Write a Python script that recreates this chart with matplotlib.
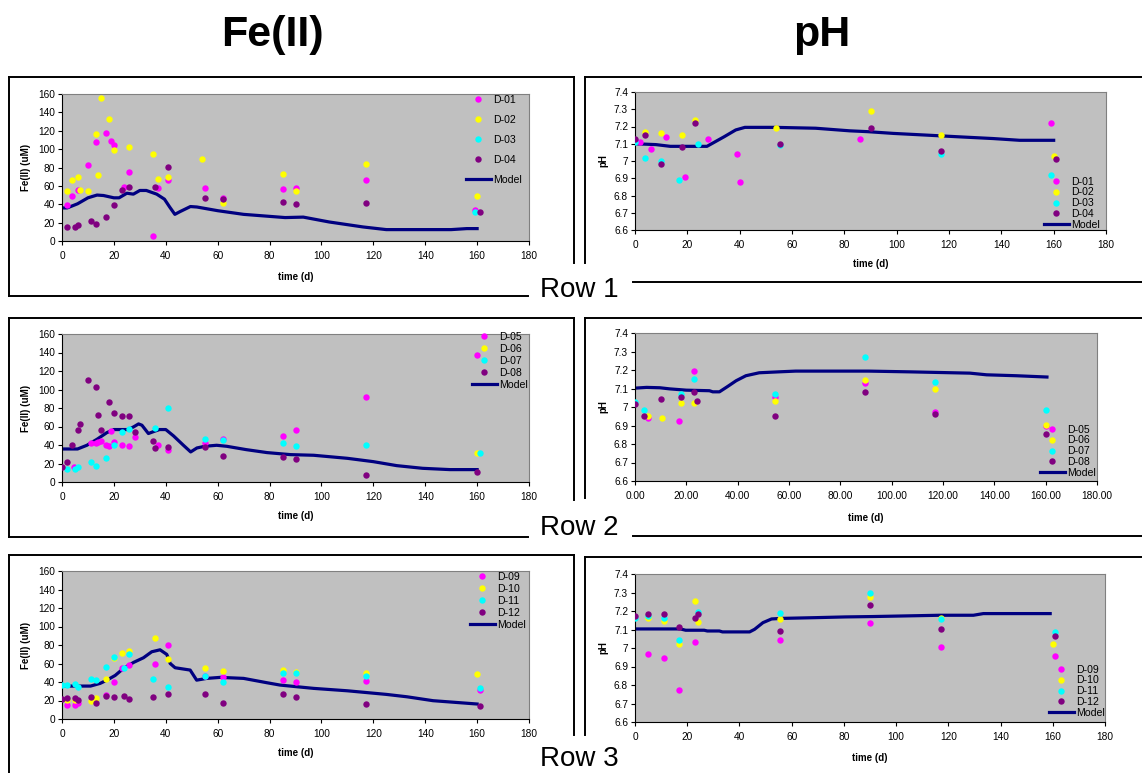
import matplotlib
matplotlib.use('Agg')
import matplotlib.pyplot as plt
from matplotlib.lines import Line2D
from matplotlib.ticker import FuncFormatter

plt.rcParams['font.family'] = ['Liberation Sans', 'DejaVu Sans']

W, H = 1142, 773

# ---- Fe(II) row 1 ----
fe1_d01_t = [2, 4, 6, 10, 13, 17, 19, 20, 24, 26, 35, 37, 41, 55, 62, 85, 90, 117, 159]
fe1_d01_v = [39, 49.5, 55, 83, 108, 117.5, 109, 104, 59, 75, 5.5, 58, 66, 58, 47, 57, 58, 66, 33.5]
fe1_d02_t = [2, 4, 6, 7, 10, 13, 14, 15, 18, 20, 26, 35, 37, 41, 54, 62, 85, 90, 117, 160]
fe1_d02_v = [54.5, 66, 70, 56, 54, 116, 72, 156, 133, 99, 102.5, 95, 67, 70, 89, 41, 73, 54, 84, 49.5]
fe1_d03_t = [159]
fe1_d03_v = [32]
fe1_d04_t = [2, 5, 6, 11, 13, 17, 20, 23, 26, 36, 41, 55, 62, 85, 90, 117, 161]
fe1_d04_v = [15, 15, 17, 22, 18, 26, 39, 55.6, 59, 59, 81, 47, 45.5, 42, 40, 41, 31.6]
fe1_model_t = [0, 2, 6, 10, 13.5, 16, 20, 22, 25, 27.5, 30, 32.5, 36.5, 39.5, 41.5, 43.5, 45.5, 49.5,
               52, 60, 70, 86, 93, 103, 116, 125, 130, 150, 156, 160]
fe1_model_v = [36, 36, 40.5, 47, 50, 49.5, 47, 47, 52, 51, 55, 55, 51, 45.5, 37, 29, 32, 37.5,
               37, 33, 29, 25.5, 26, 20.7, 15.3, 12.4, 12.4, 12.4, 13.5, 13.5]

# ---- pH row 1 ----
ph1_d01_t = [2, 6, 12, 19, 28, 39, 40, 86, 159]
ph1_d01_v = [7.11, 7.07, 7.14, 6.91, 7.13, 7.04, 6.88, 7.13, 7.22]
ph1_d02_t = [4, 10, 18, 23, 54, 90, 117, 160]
ph1_d02_v = [7.17, 7.16, 7.15, 7.24, 7.19, 7.29, 7.15, 7.03]
ph1_d03_t = [0, 4, 10, 17, 24, 55.6, 117, 159]
ph1_d03_v = [7.11, 7.02, 7.00, 6.89, 7.10, 7.09, 7.04, 6.92]
ph1_d04_t = [0, 4, 10, 18, 23, 55.6, 90, 117, 161]
ph1_d04_v = [7.13, 7.15, 6.98, 7.08, 7.22, 7.10, 7.19, 7.06, 7.01]
ph1_model_t = [0, 8, 13.5, 27.5, 34, 38.5, 42, 53.5, 69, 82, 89, 98.7, 111.5, 124, 137, 147, 160]
ph1_model_v = [7.10, 7.095, 7.085, 7.085, 7.14, 7.18, 7.195, 7.195, 7.19, 7.175, 7.17, 7.16, 7.15,
               7.14, 7.13, 7.12, 7.12]

# ---- Fe(II) row 2 ----
fe2_d05_t = [4.5, 11, 13, 14, 15, 17, 18, 19, 20, 23, 26, 28, 37, 41, 55, 62, 85, 90, 117, 160]
fe2_d05_v = [16.6, 42, 42.6, 43, 44.4, 40.4, 38.6, 55, 43.7, 40.4, 39.4, 48.4, 40.4, 35, 42, 46.6,
             50, 56, 92.4, 137]
fe2_d06_t = [160]
fe2_d06_v = [31.4]
fe2_d07_t = [2, 5, 6, 11, 13, 17, 20, 23, 26, 36, 41, 55, 62, 85, 90, 117, 161]
fe2_d07_v = [14.4, 14.4, 16, 21.7, 17.7, 26, 39.7, 54.5, 57.8, 58.9, 79.8, 46.6, 45.5, 42, 39.4,
             40.5, 31.4]
fe2_d08_t = [0, 2, 4, 6, 7, 10, 13, 14, 15, 18, 20, 23, 26, 28, 35, 36, 41, 55, 62, 85, 90, 117, 160]
fe2_d08_v = [16.6, 21.7, 40.4, 56, 63, 110, 102.6, 72.6, 56, 86, 74.8, 71.5, 71.5, 54, 44.4, 37.2,
             38.3, 37.6, 27.8, 27.4, 24.9, 8, 10.5]
fe2_model_t = [0, 6, 9.6, 13.5, 17.3, 20, 25.6, 27.6, 29.5, 30.8, 33.3, 35.3, 37.6, 40, 43, 46.8,
               49.6, 52, 55, 59.6, 63.5, 71, 79, 88, 97, 110, 120, 129, 139, 149.5, 160]
fe2_model_v = [35.7, 35.7, 39.7, 46.2, 53.4, 56.7, 56.7, 59.6, 62.8, 61.4, 52.4, 54.5, 56.7, 56.7,
               49.8, 39.7, 32.5, 36.8, 38.6, 39.7, 38.6, 35, 31.8, 29.6, 28.9, 25.6, 22, 17.7,
               14.8, 13.4, 13.4]

# ---- pH row 2 ----
ph2_d05_t = [5, 17, 23, 54.5, 89.5, 116.7, 160]
ph2_d05_v = [6.94, 6.925, 7.194, 7.055, 7.13, 6.972, 6.90]
ph2_d06_t = [5, 10.7, 18, 23, 54.5, 89.5, 116.7, 160]
ph2_d06_v = [6.954, 6.94, 7.023, 7.023, 7.033, 7.144, 7.10, 6.903]
ph2_d07_t = [0, 3.7, 18, 23, 54.5, 89.5, 116.7, 160]
ph2_d07_v = [7.026, 6.983, 7.071, 7.153, 7.071, 7.272, 7.133, 6.983]
ph2_d08_t = [0, 3.7, 10, 18, 23, 24, 54.5, 89.5, 116.7, 160]
ph2_d08_v = [7.015, 6.95, 7.044, 7.055, 7.08, 7.03, 6.952, 7.08, 6.963, 6.853]
ph2_model_t = [0, 4.5, 9.7, 13.5, 20, 29, 30.3, 32.9, 36.1, 39.4, 43.2, 48.4, 56, 62.6, 91, 107,
               130.5, 137, 148.6, 160.5]
ph2_model_v = [7.102, 7.106, 7.104, 7.098, 7.091, 7.088, 7.082, 7.082, 7.111, 7.142, 7.169, 7.185,
               7.19, 7.194, 7.194, 7.19, 7.183, 7.174, 7.169, 7.162]

# ---- Fe(II) row 3 ----
fe3_d09_t = [2, 5, 6, 17, 20, 23, 26, 36, 41, 55, 62, 85, 90, 117, 161]
fe3_d09_v = [15, 15, 17, 26.3, 39.6, 55, 58.3, 59.4, 79.9, 46.8, 45.7, 41.7, 39.6, 40.7, 31]
fe3_d10_t = [2, 5, 11, 13, 17, 20, 23, 26, 36, 41, 55, 62, 85, 90, 117, 160]
fe3_d10_v = [20.1, 20.1, 20, 22.3, 42.8, 65.5, 71.6, 73.7, 88, 64.4, 55, 52.2, 52.5, 50.7, 50, 48.9]
fe3_d11_t = [0, 2, 5, 6, 11, 13, 17, 20, 24, 26, 35, 41, 55, 62, 85, 90, 117, 161]
fe3_d11_v = [36.3, 36.3, 37.4, 34.5, 42.8, 41.7, 56, 66.5, 55, 69.8, 42.8, 34.5, 46, 39.6, 50,
             49.6, 46.7, 33.8]
fe3_d12_t = [0, 2, 5, 6, 11, 13, 17, 20, 24, 26, 35, 41, 55, 62, 85, 90, 117, 161]
fe3_d12_v = [21.2, 22.3, 23, 20.1, 23.4, 17, 25.2, 23.4, 25.2, 21.2, 24.1, 27, 27.3, 16.9, 27.3,
             24, 16.2, 13.7]
fe3_model_t = [0, 11, 14.7, 17.3, 20.5, 23.7, 27.6, 31.4, 34.6, 37.8, 40.4, 41.7, 43.6, 49.4, 51.9,
               55.8, 61, 70, 79, 84, 97, 110, 125, 133, 143, 160]
fe3_model_v = [35.6, 35.6, 38.5, 42, 47.1, 54.7, 61.2, 66.2, 72.7, 74.8, 69.8, 60, 55.4, 52.9, 42,
               43.9, 45, 43.9, 39.2, 36.7, 33.1, 30.5, 26.6, 24, 19.8, 16.2]

# ---- pH row 3 ----
ph3_d09_t = [5, 11, 17, 23, 55.6, 90, 117, 161]
ph3_d09_v = [6.965, 6.945, 6.774, 7.033, 7.044, 7.136, 7.003, 6.955]
ph3_d10_t = [5, 11, 17, 23, 24, 55.6, 90, 117, 160]
ph3_d10_v = [7.161, 7.147, 7.022, 7.254, 7.142, 7.157, 7.274, 7.164, 7.022]
ph3_d11_t = [0, 5, 11, 17, 24, 55.6, 90, 117, 161]
ph3_d11_v = [7.161, 7.173, 7.161, 7.044, 7.193, 7.191, 7.296, 7.157, 7.085]
ph3_d12_t = [0, 5, 11, 17, 23, 24, 55.6, 90, 117, 161]
ph3_d12_v = [7.173, 7.184, 7.184, 7.114, 7.161, 7.184, 7.094, 7.235, 7.105, 7.064]
ph3_model_t = [0, 17.4, 19.4, 26.5, 27.7, 32.3, 33.5, 43.9, 45.8, 49, 52.3, 56, 69, 80.6, 91, 116.8,
               129.6, 133.4, 159]
ph3_model_v = [7.103, 7.103, 7.096, 7.096, 7.092, 7.092, 7.087, 7.087, 7.101, 7.137, 7.157, 7.16,
               7.164, 7.168, 7.17, 7.177, 7.177, 7.186, 7.186]

well_colors = ['#FF00FF', '#FFFF00', '#00FFFF', '#800080']
fe_ticks = [0, 20, 40, 60, 80, 100, 120, 140, 160]
ph_ticks = [6.6, 6.7, 6.8, 6.9, 7.0, 7.1, 7.2, 7.3, 7.4]
time_ticks = [0, 20, 40, 60, 80, 100, 120, 140, 160, 180]

fig = plt.figure(figsize=(W / 100, H / 100), dpi=100)


def fx(x):
    return x / W


def fy(y):
    return 1 - y / H


def rect(l, t, r, b):
    return [fx(l), fy(b), fx(r) - fx(l), fy(t) - fy(b)]


def hline(y, x0, x1):
    fig.add_artist(Line2D([fx(x0), fx(x1)], [fy(y), fy(y)], color='black', lw=1.4))


def vline(x, y0, y1):
    fig.add_artist(Line2D([fx(x), fx(x)], [fy(y0), fy(y1)], color='black', lw=1.4))


def general(v, pos):
    return '%g' % round(v, 2)


def panel(box, wells, labels, model_t, model_v, kind, leg_loc, leg_xy, leg_space,
          xpad, two_dec=False):
    ax = fig.add_axes(rect(*box))
    ax.set_facecolor('#C0C0C0')
    ax.plot(model_t, model_v, color='#000080', lw=2.3, label='Model', zorder=2)
    handles = []
    for (t, v), c, lab in zip(wells, well_colors, labels):
        h, = ax.plot(t, v, 'o', color=c, ms=4.6, mew=0, label=lab, zorder=3)
        handles.append(h)
    handles.append(ax.lines[0])
    ax.set_xlim(0, 180)
    ax.set_xticks(time_ticks)
    if kind == 'fe':
        ax.set_ylim(0, 160)
        ax.set_yticks(fe_ticks)
        ax.set_ylabel('Fe(II) (uM)', fontsize=7, fontweight='bold', labelpad=5)
    else:
        ax.set_ylim(6.6, 7.4)
        ax.set_yticks(ph_ticks)
        ax.set_ylabel('pH', fontsize=7, fontweight='bold', labelpad=4)
    ax.yaxis.set_major_formatter(FuncFormatter(general))
    if two_dec:
        ax.xaxis.set_major_formatter(FuncFormatter(lambda v, p: '%.2f' % v))
    ax.set_xlabel('time (d)', fontsize=7, fontweight='bold', labelpad=xpad)
    ax.tick_params(axis='both', labelsize=7.3, direction='out', length=3, width=0.8,
                   colors='black')
    ax.tick_params(axis='x', pad=4)
    ax.tick_params(axis='y', pad=2)
    for s in ['top', 'right']:
        ax.spines[s].set_color('#808080')
        ax.spines[s].set_linewidth(0.8)
    for s in ['left', 'bottom']:
        ax.spines[s].set_color('black')
        ax.spines[s].set_linewidth(0.8)
    ax.legend(handles=handles, loc=leg_loc, bbox_to_anchor=(fx(leg_xy[0]), fy(leg_xy[1])),
              bbox_transform=fig.transFigure, frameon=False, fontsize=7.6,
              labelspacing=leg_space, handlelength=2.4, handletextpad=0.2, borderpad=0,
              borderaxespad=0)
    return ax


# row 1
panel((62, 94, 529, 241),
      [(fe1_d01_t, fe1_d01_v), (fe1_d02_t, fe1_d02_v), (fe1_d03_t, fe1_d03_v), (fe1_d04_t, fe1_d04_v)],
      ['D-01', 'D-02', 'D-03', 'D-04'], fe1_model_t, fe1_model_v, 'fe',
      'upper right', (522, 95), 0.95, 8)
panel((635, 92, 1106, 230),
      [(ph1_d01_t, ph1_d01_v), (ph1_d02_t, ph1_d02_v), (ph1_d03_t, ph1_d03_v), (ph1_d04_t, ph1_d04_v)],
      ['D-01', 'D-02', 'D-03', 'D-04'], ph1_model_t, ph1_model_v, 'ph',
      'lower right', (1100, 230), 0.08, 6.5)

# row 2
panel((62, 334, 529, 482),
      [(fe2_d05_t, fe2_d05_v), (fe2_d06_t, fe2_d06_v), (fe2_d07_t, fe2_d07_v), (fe2_d08_t, fe2_d08_v)],
      ['D-05', 'D-06', 'D-07', 'D-08'], fe2_model_t, fe2_model_v, 'fe',
      'upper right', (528, 332), 0.19, 6.5)
panel((635, 333, 1097, 481),
      [(ph2_d05_t, ph2_d05_v), (ph2_d06_t, ph2_d06_v), (ph2_d07_t, ph2_d07_v), (ph2_d08_t, ph2_d08_v)],
      ['D-05', 'D-06', 'D-07', 'D-08'], ph2_model_t, ph2_model_v, 'ph',
      'lower right', (1096, 478), 0.08, 8.5, two_dec=True)

# row 3
panel((62, 571, 529, 719),
      [(fe3_d09_t, fe3_d09_v), (fe3_d10_t, fe3_d10_v), (fe3_d11_t, fe3_d11_v), (fe3_d12_t, fe3_d12_v)],
      ['D-09', 'D-10', 'D-11', 'D-12'], fe3_model_t, fe3_model_v, 'fe',
      'upper right', (526, 572), 0.19, 6.5)
panel((635, 574, 1105, 722),
      [(ph3_d09_t, ph3_d09_v), (ph3_d10_t, ph3_d10_v), (ph3_d11_t, ph3_d11_v), (ph3_d12_t, ph3_d12_v)],
      ['D-09', 'D-10', 'D-11', 'D-12'], ph3_model_t, ph3_model_v, 'ph',
      'lower right', (1105, 718), 0.08, 8)

# frames around each chart
# row 1
vline(9, 77, 296)
hline(77, 9, 574)
vline(574, 77, 263)
hline(296, 9, 528)
vline(585, 77, 263)
hline(77, 585, 1142)
hline(282, 633, 1142)
# row 2
vline(9, 318, 537)
hline(318, 9, 574)
vline(574, 318, 500)
hline(537, 9, 528)
vline(585, 318, 498)
hline(318, 585, 1142)
hline(536, 633, 1142)
# row 3
vline(9, 555, 773)
hline(555, 9, 574)
vline(574, 555, 735)
vline(585, 557, 735)
hline(557, 585, 1142)

# column headings and row names
fig.text(fx(272), fy(35), 'Fe(II)', fontsize=31, fontweight='bold', ha='center', va='center')
fig.text(fx(822), fy(35), 'pH', fontsize=31, fontweight='bold', ha='center', va='center')
for name, yb in [('Row 1', 297), ('Row 2', 535), ('Row 3', 766)]:
    fig.text(fx(540), fy(yb), name, fontsize=20, ha='left', va='baseline')

fig.savefig('out.png', dpi=100, facecolor='white')
